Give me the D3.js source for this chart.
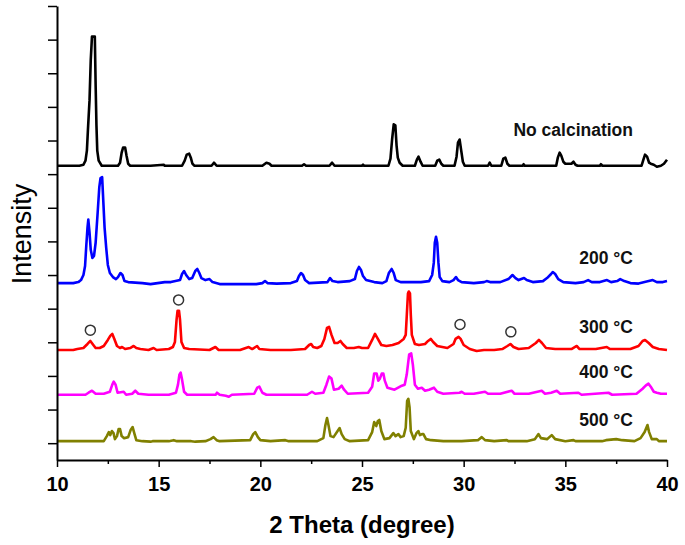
<!DOCTYPE html>
<html>
<head>
<meta charset="utf-8">
<script src="https://cdn.jsdelivr.net/npm/d3@7"></script>
<style>
  html, body { margin: 0; padding: 0; background: #fff; }
  svg { display: block; font-family: "Liberation Sans", Arial, sans-serif; }
</style>
</head>
<body>
<svg id="chart" width="685" height="545"></svg>
<script>
// ---------------- DATA ----------------
const xTicks = [10, 15, 20, 25, 30, 35, 40];
const xMinorTicks = [12.5, 17.5, 22.5, 27.5, 32.5, 37.5];
const yTicks = [0, 1000, 2000, 3000, 4000, 5000, 6000, 7000, 8000, 9000, 10000, 11000, 12000, 13000];

const seriesNames = ["No calcination", "200 °C", "300 °C", "400 °C", "500 °C"];
const seriesColors = ["#000000", "#0000ff", "#ff0000", "#ff00ff", "#808000"];
const offsets = [8250, 4760, 2770, 1440, 60];

// [2theta, intensity above the pattern's own baseline]
const noCalcination = [[10.0,0],[10.6,0],[11.1,0],[11.3,30],[11.4,150],[11.47,450],[11.52,1050],[11.6,1950],[11.66,3150],[11.72,3840],[11.86,3840],[11.9,2400],[11.94,1200],[11.98,450],[12.05,150],[12.2,0],[13.0,0],[13.1,90],[13.18,390],[13.25,540],[13.35,540],[13.42,300],[13.5,60],[13.6,0],[14.6,0],[15.25,30],[15.3,0],[16.15,0],[16.28,150],[16.38,330],[16.5,360],[16.58,240],[16.66,60],[16.75,0],[17.6,0],[17.72,90],[17.85,0],[20.1,0],[20.3,90],[20.45,60],[20.55,0],[22.05,0],[22.15,45],[22.25,0],[23.4,0],[23.53,90],[23.65,0],[25.0,0],[25.05,30],[25.1,0],[26.3,0],[26.4,210],[26.48,780],[26.56,1230],[26.64,1200],[26.7,600],[26.76,240],[26.85,90],[27.0,0],[27.6,0],[27.7,180],[27.78,270],[27.88,120],[27.98,0],[28.6,0],[28.7,150],[28.8,180],[28.9,60],[29.0,0],[29.55,0],[29.65,270],[29.72,690],[29.8,780],[29.88,450],[29.96,120],[30.05,0],[31.2,0],[31.28,90],[31.36,0],[31.85,0],[31.95,210],[32.05,240],[32.15,60],[32.25,0],[32.9,0],[32.95,45],[33.0,0],[34.55,0],[34.63,240],[34.72,390],[34.8,300],[34.9,120],[35.0,60],[35.3,60],[35.4,120],[35.5,30],[35.6,0],[36.7,0],[36.75,45],[36.82,0],[38.75,0],[38.84,180],[38.92,330],[39.02,270],[39.12,90],[39.2,60],[39.35,30],[39.5,-30],[39.7,0],[39.85,60],[40.0,180]];

const c200 = [[10.0,0],[10.8,0],[11.05,30],[11.18,90],[11.3,240],[11.38,510],[11.44,1110],[11.5,1650],[11.54,1890],[11.6,1500],[11.66,990],[11.74,750],[11.82,810],[11.9,1200],[12.0,2100],[12.08,2850],[12.14,3120],[12.22,3150],[12.28,2400],[12.34,1650],[12.42,1050],[12.5,540],[12.6,300],[12.75,180],[12.9,120],[13.0,180],[13.12,300],[13.22,240],[13.32,60],[13.5,30],[14.2,0],[14.6,-30],[15.3,30],[15.6,30],[16.05,90],[16.15,270],[16.25,360],[16.35,240],[16.5,120],[16.65,150],[16.8,360],[16.9,420],[17.0,300],[17.1,150],[17.3,90],[17.5,120],[17.65,30],[18.0,-30],[19.0,-30],[19.8,-30],[20.1,0],[20.23,60],[20.35,0],[20.8,-15],[21.5,0],[21.8,60],[21.9,210],[22.0,300],[22.1,240],[22.2,90],[22.4,0],[23.3,30],[23.43,150],[23.55,60],[23.8,30],[24.4,60],[24.65,120],[24.75,360],[24.85,480],[24.95,390],[25.05,210],[25.2,90],[25.6,30],[26.0,0],[26.2,60],[26.32,300],[26.46,420],[26.56,300],[26.66,90],[26.9,30],[27.5,30],[27.9,30],[28.3,60],[28.45,240],[28.53,600],[28.58,1200],[28.64,1380],[28.7,1200],[28.76,600],[28.82,180],[28.95,60],[29.3,30],[29.5,90],[29.62,180],[29.72,90],[29.9,30],[30.5,0],[31.0,30],[31.13,60],[31.3,30],[31.8,30],[32.2,120],[32.4,240],[32.55,150],[32.7,90],[32.97,150],[33.1,90],[33.4,30],[33.9,60],[34.1,150],[34.3,270],[34.38,330],[34.5,270],[34.65,120],[34.9,30],[35.5,0],[35.9,30],[36.12,90],[36.3,30],[36.7,30],[37.05,90],[37.25,30],[37.55,60],[37.7,120],[37.9,60],[38.2,0],[38.6,-15],[38.9,30],[39.3,90],[39.5,30],[39.8,30],[40.0,60]];

const c300 = [[10.0,0],[10.8,0],[11.0,30],[11.3,60],[11.5,180],[11.64,270],[11.75,180],[11.9,60],[12.1,60],[12.3,120],[12.5,300],[12.62,420],[12.72,480],[12.82,330],[12.95,120],[13.1,60],[13.2,90],[13.35,30],[13.6,60],[13.77,120],[13.9,60],[14.1,30],[14.5,0],[14.75,60],[14.9,0],[15.5,30],[15.7,90],[15.8,240],[15.88,900],[15.93,1170],[16.0,1170],[16.05,900],[16.12,240],[16.25,60],[16.5,30],[17.5,0],[17.79,90],[17.95,0],[19.0,0],[19.43,90],[19.6,30],[19.84,120],[19.95,30],[20.5,0],[21.5,0],[22.2,30],[22.4,150],[22.5,180],[22.6,90],[22.8,60],[23.0,120],[23.15,330],[23.28,660],[23.38,690],[23.5,450],[23.65,210],[23.8,210],[23.94,270],[24.05,180],[24.25,60],[24.6,60],[24.84,90],[25.0,60],[25.3,60],[25.5,300],[25.64,480],[25.78,330],[25.95,150],[26.2,120],[26.5,150],[26.8,210],[27.05,330],[27.15,450],[27.2,1000],[27.26,1680],[27.3,1740],[27.36,1680],[27.4,1050],[27.45,450],[27.6,180],[27.8,150],[28.1,180],[28.25,270],[28.38,330],[28.5,240],[28.7,120],[29.2,60],[29.5,180],[29.6,330],[29.75,390],[29.85,330],[30.0,150],[30.3,30],[30.64,-30],[31.0,0],[31.5,0],[31.9,30],[32.15,120],[32.3,180],[32.45,90],[32.7,30],[33.2,60],[33.55,210],[33.7,300],[33.85,210],[34.05,60],[34.5,30],[35.3,30],[35.56,120],[35.7,30],[36.5,30],[37.04,90],[37.2,30],[38.2,30],[38.6,120],[38.8,270],[38.92,300],[39.1,210],[39.3,90],[39.6,30],[40.0,0]];

const c400 = [[10.0,0],[11.4,0],[11.55,60],[11.72,120],[11.9,30],[12.3,30],[12.6,90],[12.72,300],[12.79,390],[12.88,300],[12.98,60],[13.28,90],[13.4,0],[13.7,30],[13.85,120],[14.0,30],[14.5,0],[15.5,0],[15.85,60],[15.95,300],[16.02,600],[16.08,660],[16.15,450],[16.25,90],[16.4,0],[17.8,0],[17.87,60],[18.0,0],[18.3,-30],[18.45,-60],[18.6,0],[19.7,30],[19.85,210],[19.95,240],[20.1,60],[20.3,0],[22.3,0],[22.54,90],[22.7,30],[23.1,60],[23.25,300],[23.38,540],[23.5,480],[23.62,150],[23.85,180],[24.0,270],[24.12,150],[24.3,30],[25.3,60],[25.5,240],[25.6,630],[25.72,630],[25.8,420],[25.88,480],[25.97,630],[26.05,630],[26.12,420],[26.25,210],[26.6,150],[26.96,270],[27.1,300],[27.2,600],[27.32,1200],[27.42,1230],[27.5,900],[27.6,300],[27.75,180],[27.94,210],[28.1,120],[28.3,150],[28.54,210],[28.7,90],[29.0,30],[29.8,60],[29.9,90],[30.05,30],[30.5,30],[31.05,90],[31.2,30],[31.8,30],[32.36,120],[32.5,30],[33.2,30],[33.84,120],[34.0,30],[34.3,60],[34.58,120],[34.75,30],[35.64,60],[35.8,0],[37.12,60],[37.3,0],[38.5,30],[38.8,180],[38.95,270],[39.09,330],[39.2,240],[39.35,90],[39.5,60],[39.7,30],[40.0,30]];

const c500 = [[10.0,0],[12.3,0],[12.45,150],[12.55,270],[12.62,180],[12.7,300],[12.78,240],[12.85,60],[12.95,150],[13.03,360],[13.1,360],[13.18,150],[13.3,90],[13.5,120],[13.62,330],[13.72,420],[13.8,240],[13.9,30],[14.2,0],[14.6,-15],[14.7,0],[15.5,0],[15.74,30],[15.9,0],[16.6,0],[16.8,-15],[17.3,0],[17.55,60],[17.7,120],[17.85,30],[18.0,0],[19.5,30],[19.65,210],[19.75,270],[19.88,120],[20.0,30],[20.5,0],[21.23,30],[21.4,0],[22.8,0],[23.1,90],[23.2,480],[23.28,690],[23.36,450],[23.45,150],[23.6,120],[23.8,300],[23.9,390],[24.0,210],[24.15,60],[24.4,0],[25.3,30],[25.5,270],[25.6,570],[25.7,450],[25.78,600],[25.85,630],[25.95,300],[26.1,60],[26.35,90],[26.54,240],[26.65,150],[26.79,210],[26.9,120],[27.05,150],[27.15,400],[27.22,1200],[27.28,1260],[27.34,1000],[27.4,300],[27.55,60],[27.68,240],[27.77,300],[27.85,180],[27.95,210],[28.02,210],[28.15,60],[28.4,30],[29.0,0],[29.9,0],[30.7,30],[30.89,120],[31.05,30],[31.5,0],[32.12,30],[32.2,0],[33.1,0],[33.5,60],[33.68,210],[33.8,90],[34.1,60],[34.33,180],[34.5,60],[35.0,0],[35.4,30],[35.5,0],[36.8,0],[37.0,30],[37.5,60],[37.8,30],[38.4,0],[38.7,90],[38.9,270],[39.04,480],[39.12,270],[39.25,60],[39.5,60],[39.6,0],[40.0,0]];

const patterns = [noCalcination, c200, c300, c400, c500];

// open-circle markers on the 300 °C pattern
const circleTheta = [11.64, 15.98, 29.82, 32.32];
const circleIntensity = [3360, 4260, 3530, 3310];

// ---------------- LAYOUT ----------------
const svg = d3.select("#chart");
const x = d3.scaleLinear().domain([10, 40]).range([57, 667]);
const y = d3.scaleLinear().domain([-500, 13000]).range([460, 6]);

const labelX = 633;
const labelBaselines = [136, 264, 333, 378, 426];

const line = d3.line().x(d => x(d[0])).y(d => y(d[1]));

patterns.forEach((pts, i) => {
  const data = pts.map(p => [p[0], p[1] + offsets[i]]);
  svg.append("path")
    .datum(data)
    .attr("fill", "none")
    .attr("stroke", seriesColors[i])
    .attr("stroke-width", 2.6)
    .attr("stroke-linejoin", "round")
    .attr("d", line);
});

// circles
svg.selectAll("circle.mark")
  .data(circleTheta.map((t, i) => [t, circleIntensity[i]]))
  .enter().append("circle")
  .attr("class", "mark")
  .attr("cx", d => x(d[0]))
  .attr("cy", d => y(d[1]))
  .attr("r", 5)
  .attr("fill", "none")
  .attr("stroke", "#333")
  .attr("stroke-width", 1.5);

// labels
seriesNames.forEach((name, i) => {
  svg.append("text")
    .attr("x", labelX)
    .attr("y", labelBaselines[i])
    .attr("text-anchor", "end")
    .attr("font-size", 17.5)
    .attr("font-weight", "bold")
    .attr("fill", "#111")
    .text(name);
});

// axes
const xAxis = svg.append("g")
  .attr("transform", "translate(0,460)")
  .call(d3.axisBottom(x).tickValues(xTicks).tickSize(7).tickSizeOuter(0).tickPadding(10).tickFormat(d3.format("d")));
xAxis.selectAll("text").attr("font-size", 20).attr("font-weight", "bold").attr("fill", "#000")
  .attr("font-family", "Liberation Sans, Arial, sans-serif");

const xMinor = svg.append("g")
  .attr("transform", "translate(0,460)")
  .call(d3.axisBottom(x).tickValues(xMinorTicks).tickSize(4).tickFormat(""));
xMinor.select(".domain").remove();

const yAxis = svg.append("g")
  .attr("transform", "translate(57,0)")
  .call(d3.axisLeft(y).tickValues(yTicks).tickSize(9).tickSizeOuter(0).tickFormat(""));

svg.selectAll(".domain").attr("stroke", "#000").attr("stroke-width", 2);
svg.selectAll(".tick line").attr("stroke", "#000").attr("stroke-width", 1.5);

// axis titles
svg.append("text")
  .attr("x", 362)
  .attr("y", 533)
  .attr("text-anchor", "middle")
  .attr("font-size", 24)
  .attr("font-weight", "bold")
  .attr("fill", "#000")
  .text("2 Theta (degree)");

svg.append("text")
  .attr("transform", "translate(31,234) rotate(-90)")
  .attr("text-anchor", "middle")
  .attr("font-size", 27)
  .attr("fill", "#000")
  .text("Intensity");
</script>
</body>
</html>
